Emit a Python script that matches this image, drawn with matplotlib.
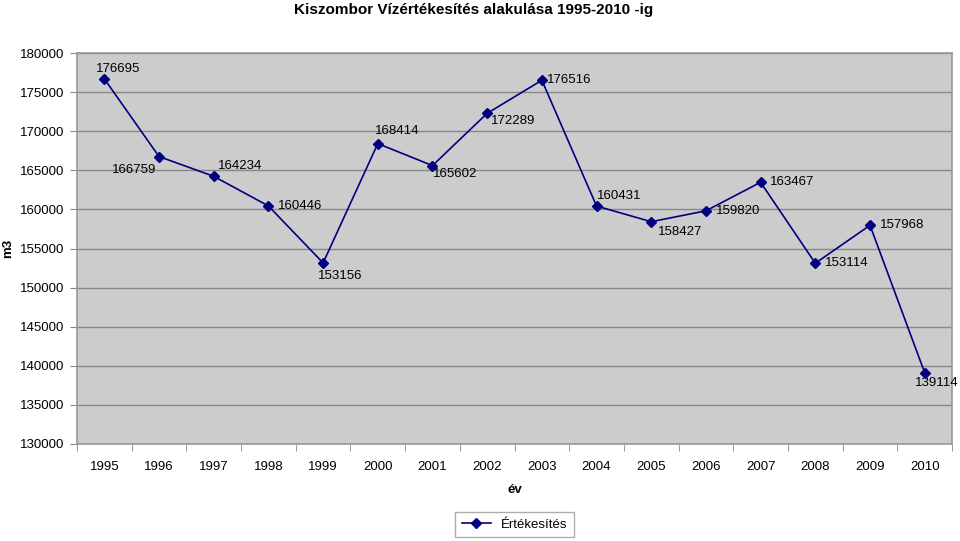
import numpy as np
import matplotlib
matplotlib.use("Agg")
import matplotlib.pyplot as plt

plt.rcParams['font.family'] = ['Liberation Sans', 'DejaVu Sans']

years = [str(y) for y in range(1995, 2011)]
values = [176695, 166759, 164234, 160446, 153156, 168414, 165602, 172289,
          176516, 160431, 158427, 159820, 163467, 153114, 157968, 139114]

# label offsets (points) and alignment
label_pos = [(-6, 3, 'left', 'bottom'), (-2, -5, 'right', 'top'), (3, 3, 'left', 'bottom'),
             (7, 0, 'left', 'center'), (-4, -5, 'left', 'top'), (-2, 5, 'left', 'bottom'),
             (0, -2, 'left', 'top'), (3, -1, 'left', 'top'), (4, 0, 'left', 'center'),
             (0, 3, 'left', 'bottom'), (5, -3, 'left', 'top'), (7, 0, 'left', 'center'),
             (7, 0, 'left', 'center'), (7, 0, 'left', 'center'), (7, 0, 'left', 'center'),
             (-7, -3, 'left', 'top')]

fig = plt.figure(figsize=(9.6, 5.41), dpi=100)
ax = fig.add_axes([0.0802, 0.1793, 0.9115, 0.7227])
ax.set_facecolor('#cccccc')

x = np.arange(len(years))
ax.plot(x, values, color='#000080', marker='D', markersize=5, linewidth=1.2,
        label='Értékesítés')

for xi, v, (dx, dy, ha, va) in zip(x, values, label_pos):
    ax.annotate(str(v), (xi, v), xytext=(dx, dy), textcoords='offset points',
                ha=ha, va=va, fontsize=9.5, color='black', annotation_clip=False)

ax.set_xlim(-0.5, len(years) - 0.5)
ax.set_ylim(130000, 180000)
ax.set_yticks(np.arange(130000, 180001, 5000))
ax.yaxis.grid(True, color='#888888', linewidth=1)
ax.set_axisbelow(True)

ax.set_xticks(x)
ax.set_xticklabels(years)
ax.set_xticks(np.arange(-0.5, len(years), 1), minor=True)
ax.tick_params(axis='x', which='major', length=0, pad=12, labelsize=9.5)
ax.tick_params(axis='x', which='minor', length=5, color='#888888')
ax.tick_params(axis='y', length=5, color='#888888', labelsize=9.5, pad=4)

for s in ax.spines.values():
    s.set_color('#999999')
    s.set_linewidth(1.2)

ax.set_xlabel('év', fontsize=9.5, fontweight='bold', labelpad=8)
ax.set_ylabel('m3', fontsize=9.5, fontweight='bold', labelpad=4)
fig.suptitle('Kiszombor Vízértékesítés alakulása 1995-2010 -ig', x=0.493, y=0.995,
             fontsize=11, fontweight='bold')

leg = fig.legend(loc='center', bbox_to_anchor=(0.536, 0.030), frameon=True,
                 fancybox=False, edgecolor='#999999', fontsize=9.5,
                 handlelength=2.2, borderpad=0.5)
leg.get_frame().set_linewidth(1)

fig.savefig('out.png', dpi=100)
